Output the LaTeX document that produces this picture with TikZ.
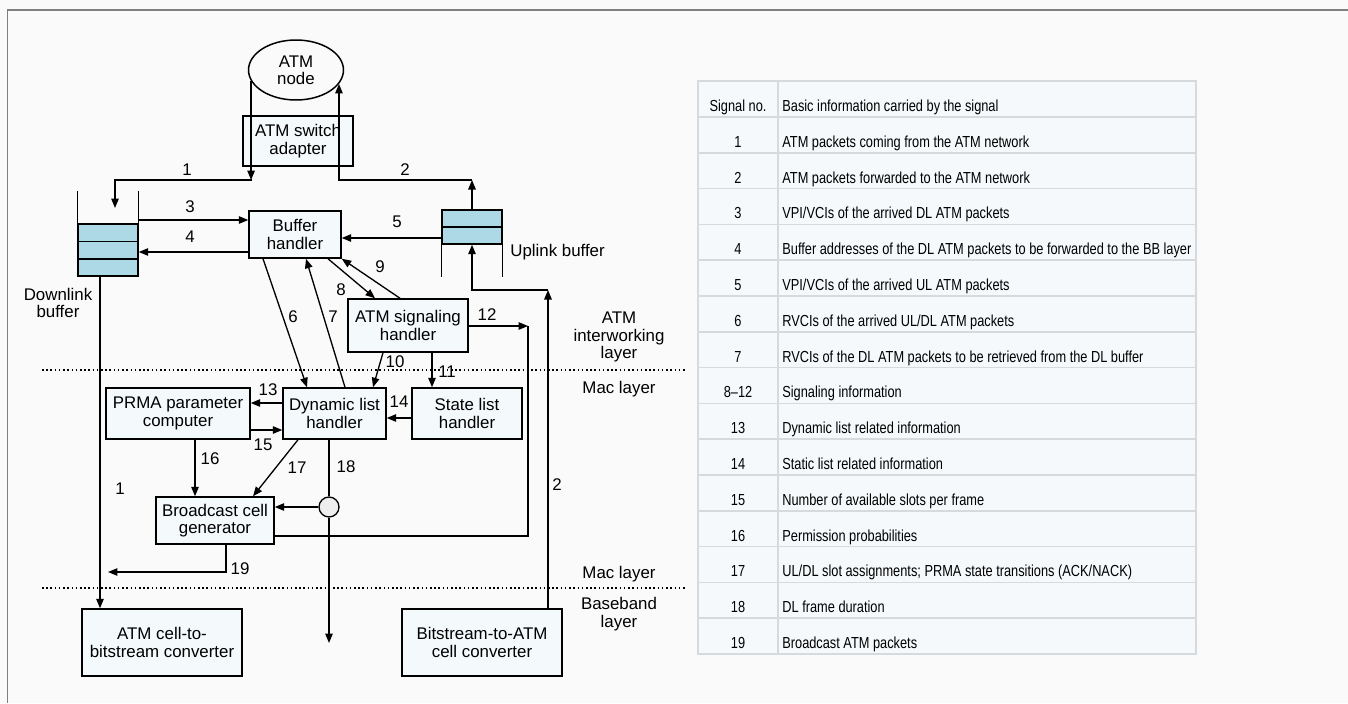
\documentclass[tikz,border=0pt]{standalone}
\usepackage{fontspec}
\setmainfont{Liberation Sans}
\newfontfamily\tabfont[FakeStretch=0.8]{Liberation Sans}
\usepackage{xcolor}
\usetikzlibrary{arrows.meta,positioning,calc,shapes.geometric}
\newcommand{\dgfont}{\fontsize{9.6}{9.9}\selectfont}
\definecolor{bg}{HTML}{FAFAFA}
\definecolor{boxfill}{HTML}{F4F9FB}
\definecolor{cellfill}{HTML}{ADD8E6}
\definecolor{framegray}{HTML}{808080}
\definecolor{rulegray}{HTML}{D7DADC}
\definecolor{tabfill}{HTML}{F5F9FB}
\definecolor{joint}{HTML}{EEEEEE}
\tikzset{
  blk/.style={draw, fill=boxfill, align=center, inner sep=0pt, line width=0.85pt},
  arr/.style={-{Triangle[length=1.9mm,width=1.5mm]}, line width=0.75pt},
  lnk/.style={line width=0.75pt},
  lbl/.style={inner sep=0pt, align=center},
  layerline/.style={line width=0.7pt, dash pattern=on 0.9pt off 1.5pt},
  tabrule/.style={draw=rulegray, line width=0.9pt},
  tabtxt/.style={font=\tabfont\fontsize{9.1}{10}\selectfont, inner sep=0pt},
}

\begin{document}
\begin{tikzpicture}[x=0.02cm, y=-0.02cm, font=\dgfont]
  \useasboundingbox (0,0) rectangle (1348,703);
  \fill[bg] (0,0) rectangle (1348,703);
  \draw[framegray, line width=1.1pt] (7.5,703) -- (7.5,10) -- (1348,10);

  % blocks
  \node[blk, minimum width=2.2cm, minimum height=1cm] (swad) at (298,141) {ATM switch\\adapter};
  \node[draw, ellipse, fill=bg, line width=0.85pt, inner sep=0pt, align=center,
    minimum width=1.9cm, minimum height=1.2cm] (atmnode) at (296,70) {ATM\\node};
  \node[blk, minimum width=1.84cm, minimum height=0.94cm] (bufh) at (295,234.5) {Buffer\\handler};
  \node[blk, minimum width=2.4cm, minimum height=1.06cm] (sigh) at (408,325.5) {ATM signaling\\handler};
  \node[blk, minimum width=2.88cm, minimum height=1.02cm] (prma) at (178,413.5) {PRMA parameter\\computer};
  \node[blk, minimum width=2.06cm, minimum height=1.02cm] (dynl) at (334.5,413.5) {Dynamic list\\handler};
  \node[blk, minimum width=2.2cm, minimum height=1.02cm] (statel) at (467,413.5) {State list\\handler};
  \node[blk, minimum width=2.36cm, minimum height=0.94cm] (bcast) at (215,520.5) {Broadcast cell\\generator};
  \node[draw, circle, fill=joint, line width=0.75pt, minimum size=0.4cm, inner sep=0pt] (circ) at (329,507) {};
  \node[blk, minimum width=3.2cm, minimum height=1.34cm] (c2b) at (162,642.5) {ATM cell-to-\\bitstream converter};
  \node[blk, minimum width=3.2cm, minimum height=1.34cm] (b2c) at (482,642.5) {Bitstream-to-ATM\\cell converter};

  % buffers
  \node[draw, fill=cellfill, line width=0.85pt, minimum width=1.2cm, minimum height=1.04cm, inner sep=0pt] (dlbuf) at (108,250) {};
  \draw[line width=0.85pt] (dlbuf.west |- 0,241.5) -- (dlbuf.east |- 0,241.5);
  \draw[line width=0.85pt] (dlbuf.west |- 0,259) -- (dlbuf.east |- 0,259);
  \draw[lnk] (dlbuf.north west) -- ++(0,-32);
  \draw[lnk] (dlbuf.north east) -- ++(0,-32);
  \node[draw, fill=cellfill, line width=0.85pt, minimum width=1.2cm, minimum height=0.68cm, inner sep=0pt] (upbuf) at (472,227) {};
  \draw[line width=0.85pt] (upbuf.west) -- (upbuf.east);
  \draw[lnk] (upbuf.south west) -- ++(0,32);
  \draw[lnk] (upbuf.south east) -- ++(0,32);
  \node[lbl] (dlname) at (58,303) {Downlink\\buffer};
  \node[lbl, anchor=west] (upname) at (510,252) {Uplink buffer};

  % layers
  \draw[layerline] (42,370) -- (685,370);
  \draw[layerline] (42,588) -- (685,588);
  \node[lbl] (lyatm) at (619,337) {ATM\\interworking\\layer};
  \node[lbl] (lymac) at (619,389) {Mac layer};
  \node[lbl] (lymac2) at (619,574) {Mac layer};
  \node[lbl] (lybb) at (619,614) {Baseband\\layer};

  % signals
  \coordinate (t1) at (252,180);
  \coordinate (d1) at (115,208);
  \coordinate (t2) at (472,180);
  \coordinate (k2) at (548,290);
  \coordinate (k12) at (528,326);
  \coordinate (e18) at (329,643);
  \coordinate (e19) at (108,572);
  \draw[arr] (atmnode.194) -- (atmnode.194 |- t1);
  \draw[arr] (t1) -| (d1);
  \draw[arr] (upbuf.north) -- (t2);
  \draw[arr] (t2) -| (atmnode.-18.4);
  \draw[arr] (dlbuf.east |- 0,220) -- (bufh.west |- 0,220);
  \draw[arr] (bufh.west |- 0,252) -- (dlbuf.east |- 0,252);
  \draw[arr] (upbuf.west |- 0,238) -- (bufh.east |- 0,238);
  \draw[arr] (bufh.south -| 263,0) -- (dynl.north -| 307,0);
  \draw[arr] (dynl.north -| 345,0) -- (bufh.south -| 306,0);
  \draw[arr] (bufh.south -| 328,0) -- (sigh.north -| 375,0);
  \draw[arr] (sigh.north -| 400,0) -- (bufh.south east);
  \draw[arr] (sigh.south -| 383,0) -- (dynl.north -| 373,0);
  \draw[arr] (sigh.south -| 432,0) -- (statel.north -| 432,0);
  \draw[arr] (sigh.east |- k12) -- (k12);
  \draw[lnk] (k12) |- (bcast.east |- 0,536);
  \draw[arr] (dynl.west |- 0,403) -- (prma.east |- 0,403);
  \draw[arr] (statel.west |- 0,418) -- (dynl.east |- 0,418);
  \draw[arr] (prma.east |- 0,430) -- (dynl.west |- 0,430);
  \draw[arr] (prma.south -| 195,0) -- (bcast.north -| 195,0);
  \draw[arr] (dynl.south -| 298,0) -- (bcast.north -| 253,0);
  \draw[lnk] (dynl.south -| circ.north) -- (circ.north);
  \draw[arr] (circ.south) -- (e18);
  \draw[arr] (circ.west) -- (bcast.east |- circ.west);
  \draw[arr] (bcast.south -| 226,0) |- (e19);
  \draw[arr] (dlbuf.south -| 100,0) -- (c2b.north -| 100,0);
  \draw[arr] (b2c.north -| k2) -- (k2);
  \draw[arr] (k2) -| (upbuf.south);

  % signal numbers
  \node[lbl] (n1) at (187,170) {1};
  \node[lbl] (n2) at (405,170) {2};
  \node[lbl] (n3) at (190,207) {3};
  \node[lbl] (n4) at (190,237) {4};
  \node[lbl] (n5) at (397,222) {5};
  \node[lbl] (n6) at (293,317) {6};
  \node[lbl] (n7) at (333,317) {7};
  \node[lbl] (n8) at (341,290) {8};
  \node[lbl] (n9) at (380,267) {9};
  \node[lbl] (n10) at (395,362) {10};
  \node[lbl] (n11) at (447,372) {11};
  \node[lbl] (n12) at (487,315) {12};
  \node[lbl] (n13) at (268,390) {13};
  \node[lbl] (n14) at (399,402) {14};
  \node[lbl] (n15) at (263,445) {15};
  \node[lbl] (n16) at (210,459) {16};
  \node[lbl] (n17) at (297,468) {17};
  \node[lbl] (n18) at (346,467) {18};
  \node[lbl] (n19) at (240,569) {19};
  \node[lbl] (n1b) at (120,489) {1};
  \node[lbl] (n2b) at (557,485) {2};

  % signal table
  \fill[tabfill] (698,81) rectangle (1196,654);
  \draw[tabrule] (778,81) -- (778,654);
  \node[tabtxt, anchor=base] (sighd) at (738,111) {Signal no.};
  \node[tabtxt, anchor=base west] (infhd) at (782,111) {Basic information carried by the signal};
  \draw[tabrule] (698,117) -- (1196,117);
  \foreach \n/\t [count=\i] in {
      1/{ATM packets coming from the ATM network},
      2/{ATM packets forwarded to the ATM network},
      3/{VPI/VCIs of the arrived DL ATM packets},
      4/{Buffer addresses of the DL ATM packets to be forwarded to the BB layer},
      5/{VPI/VCIs of the arrived UL ATM packets},
      6/{RVCIs of the arrived UL/DL ATM packets},
      7/{RVCIs of the DL ATM packets to be retrieved from the DL buffer},
      8–12/{Signaling information},
      13/{Dynamic list related information},
      14/{Static list related information},
      15/{Number of available slots per frame},
      16/{Permission probabilities},
      17/{UL/DL slot assignments; PRMA state transitions (ACK/NACK)},
      18/{DL frame duration},
      19/{Broadcast ATM packets}} {
    \pgfmathsetmacro{\yb}{117+35.8*\i}
    \node[tabtxt, anchor=base] (sig\i) at (738,\yb-5.5) {\n};
    \node[tabtxt, anchor=base west] (inf\i) at (782,\yb-5.5) {\t};
    \draw[tabrule] (698,\yb) -- (1196,\yb);
  }
  \draw[tabrule] (698,81) rectangle (1196,654);
\end{tikzpicture}
\end{document}
